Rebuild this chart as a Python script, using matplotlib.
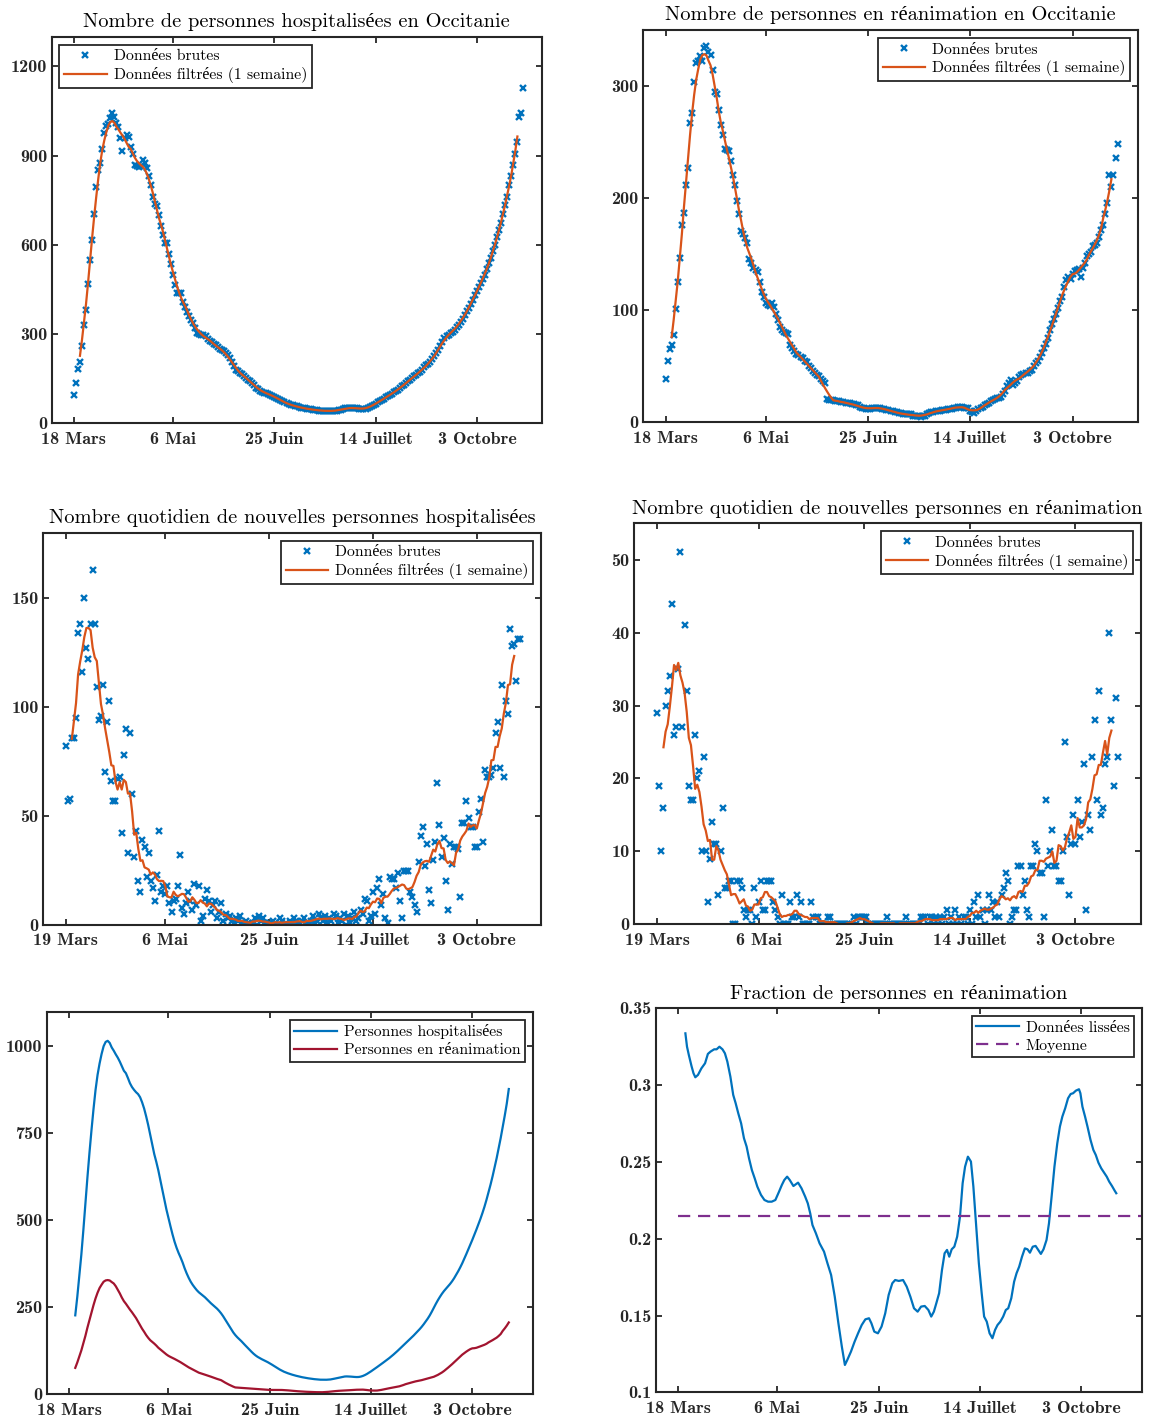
import numpy as np
import pandas as pd
import matplotlib
matplotlib.use('Agg')
import matplotlib.pyplot as plt

# --- donnees (jour 0 = 18 mars pour les stocks, 19 mars pour les flux) ---
hosp_raw = [94, 136, 181, 207, 260, 330, 381, 467, 549, 616,
            703, 795, 851, 874, 924, 975, 1000, 1008, 1025, 1044,
            1030, 1010, 997, 958, 916, 960, 970, 963, 930, 905,
            868, 866, 863, 865, 887, 874, 857, 830, 803, 760,
            739, 730, 700, 664, 633, 607, 605, 569, 536, 498,
            465, 439, 437, 437, 407, 390, 375, 360, 347, 336,
            320, 305, 300, 297, 296, 292, 285, 278, 272, 268,
            262, 255, 250, 246, 242, 238, 230, 218, 205, 192,
            180, 175, 170, 165, 158, 152, 147, 142, 135, 128,
            120, 115, 110, 106, 103, 101, 99, 96, 93, 90,
            86, 82, 78, 74, 70, 67, 64, 62, 60, 58,
            57, 55, 53, 51, 50, 49, 48, 47, 46, 45,
            44, 43, 43, 42, 42, 42, 41, 41, 42, 42,
            43, 44, 46, 48, 50, 51, 52, 52, 53, 52,
            50, 49, 48, 48, 49, 51, 54, 58, 62, 66,
            70, 74, 78, 82, 87, 91, 95, 100, 104, 108,
            113, 118, 124, 130, 136, 141, 146, 152, 158, 163,
            168, 173, 180, 188, 195, 200, 207, 215, 225, 236,
            246, 260, 274, 286, 294, 298, 303, 308, 315, 323,
            332, 341, 352, 364, 376, 387, 400, 415, 431, 446,
            460, 472, 485, 500, 520, 538, 556, 578, 599, 625,
            650, 675, 705, 735, 762, 800, 830, 870, 905, 947,
            1030, 1042, 1127]

rea_raw = [39, 55, 65, 69, 78, 101, 125, 147, 176, 187,
           212, 227, 267, 276, 304, 321, 322, 327, 322, 334,
           336, 330, 328, 314, 295, 293, 279, 265, 256, 244,
           243, 242, 233, 221, 212, 197, 186, 171, 168, 164,
           160, 146, 142, 138, 136, 134, 125, 116, 112, 106,
           105, 104, 106, 103, 97, 91, 85, 82, 81, 80,
           79, 69, 66, 64, 61, 60, 58, 57, 55, 54,
           50, 48, 46, 44, 42, 41, 39, 37, 35, 21,
           20, 20, 20, 19, 19, 19, 18, 18, 17, 17,
           17, 16, 16, 15, 15, 14, 13, 13, 12, 12,
           12, 13, 13, 13, 13, 13, 12, 12, 11, 11,
           10, 10, 9, 9, 8, 8, 7, 7, 7, 7,
           7, 6, 6, 6, 6, 5, 6, 6, 7, 8,
           9, 9, 10, 10, 10, 11, 11, 11, 12, 12,
           12, 13, 13, 14, 14, 14, 13, 13, 13, 10,
           9, 8, 10, 12, 13, 14, 15, 16, 17, 19,
           20, 21, 22, 22, 23, 25, 28, 32, 35, 38,
           33, 35, 37, 40, 42, 43, 44, 44, 46, 47,
           50, 53, 55, 58, 62, 66, 70, 75, 82, 88,
           92, 97, 102, 108, 112, 121, 127, 130, 128, 132,
           135, 136, 137, 130, 138, 142, 148, 150, 152, 157,
           158, 160, 165, 172, 176, 186, 196, 221, 210, 221,
           236, 248]

new_hosp = [82, 57, 58, 86, 86, 95, 134, 138, 116, 150,
            127, 122, 138, 163, 138, 109, 94, 96, 110, 70,
            93, 103, 66, 57, 57, 67, 68, 42, 78, 90,
            33, 88, 60, 31, 43, 20, 15, 39, 36, 22,
            33, 20, 17, 11, 23, 43, 15, 18, 14, 18,
            10, 6, 11, 12, 18, 32, 8, 5, 10, 15,
            11, 7, 19, 9, 18, 2, 4, 12, 16, 11,
            6, 9, 11, 3, 6, 10, 2, 5, 3, 4,
            2, 1, 3, 2, 4, 1, 0, 2, 1, 0,
            1, 3, 0, 4, 2, 3, 1, 0, 1, 0,
            2, 1, 0, 3, 2, 0, 1, 0, 2, 1,
            3, 2, 0, 1, 2, 3, 1, 0, 2, 4,
            1, 2, 5, 3, 2, 4, 1, 3, 2, 5,
            4, 1, 3, 2, 5, 0, 4, 1, 3, 6,
            2, 3, 7, 5, 12, 11, 2, 4, 15, 5,
            17, 21, 9, 14, 3, 1, 22, 21, 21, 17,
            24, 11, 3, 25, 25, 25, 15, 13, 9, 6,
            29, 41, 45, 27, 37, 16, 10, 30, 38, 65,
            46, 31, 40, 20, 7, 37, 28, 36, 36, 35,
            13, 47, 47, 57, 49, 45, 45, 36, 36, 52,
            58, 38, 71, 68, 68, 69, 72, 88, 93, 72,
            110, 68, 103, 97, 136, 128, 129, 112, 131, 131]

new_rea = [29, 19, 10, 16, 30, 32, 34, 44, 26, 27,
           35, 51, 27, 41, 32, 19, 17, 17, 26, 20,
           21, 10, 23, 10, 3, 9, 14, 11, 11, 4,
           10, 16, 5, 5, 6, 6, 0, 0, 6, 6,
           5, 2, 1, 2, 2, 0, 5, 1, 3, 6,
           2, 2, 6, 6, 6, 3, 2, 1, 0, 4,
           0, 0, 0, 3, 1, 1, 4, 1, 3, 0,
           0, 0, 0, 3, 1, 1, 1, 0, 0, 0,
           0, 1, 1, 0, 0, 0, 0, 0, 0, 0,
           0, 0, 0, 1, 0, 1, 1, 1, 1, 1,
           0, 0, 0, 0, 0, 0, 0, 0, 0, 1,
           0, 0, 0, 0, 0, 0, 0, 0, 1, 0,
           0, 0, 0, 0, 0, 1, 1, 1, 0, 1,
           1, 0, 1, 0, 1, 0, 1, 2, 0, 1,
           0, 2, 0, 1, 0, 1, 1, 0, 2, 0,
           3, 1, 4, 1, 2, 0, 2, 4, 2, 3,
           1, 3, 1, 4, 5, 7, 6, 0, 1, 2,
           2, 8, 8, 4, 6, 2, 1, 8, 8, 11,
           10, 7, 7, 1, 17, 8, 10, 13, 8, 8,
           6, 6, 10, 25, 12, 4, 11, 15, 11, 17,
           12, 14, 22, 2, 15, 13, 23, 28, 17, 32,
           15, 16, 22, 23, 40, 28, 19, 31, 23]

frac_day = [3.6, 4.4, 5.3, 6.6, 7.6, 8.5, 9.8, 11.5, 13.3, 14.7,
            16, 17.8, 19, 20.4, 21.9, 23.1, 24.3, 25.8, 27.2, 28.4,
            29.7, 31.1, 32.5, 33.8, 35, 36.4, 37.8, 39.1, 40.9, 42.6,
            44.4, 46.2, 48, 49.8, 51.2, 52.4, 53.8, 55.1, 56.9, 59.2,
            60.9, 62.7, 64, 65.2, 66.3, 68, 69.8, 72, 73.7, 75.5,
            77.3, 79.1, 80.8, 82.3, 83.5, 85.3, 87.1, 88.8, 90.6, 92.4,
            94.2, 95.4, 96.8, 98.6, 100.4, 102.2, 103.9, 105.7, 107.1, 108.9,
            111, 112.8, 114.6, 116.4, 118.2, 119.9, 121.7, 123.5, 124.9, 126.2,
            127.4, 128.8, 130.2, 131.5, 132.7, 133.8, 135, 136.3, 137.7, 139.1,
            140.4, 141.6, 143, 144.5, 145.7, 147, 148.4, 149.8, 151, 152.3,
            153.7, 155.1, 156.4, 157.6, 159, 160.4, 161.7, 162.9, 164.4, 165.8,
            167, 168.3, 169.7, 171.1, 172.4, 173.6, 175, 176.4, 177.7, 179,
            180.3, 181.8, 183, 184.3, 185.7, 187.1, 188.4, 189.6, 191, 192.4,
            193.7, 194.9, 196.3, 197.8, 198.5, 199.5, 200.8, 202, 203.5, 204.9,
            206.1, 207.4, 208.8, 210.2, 211.5, 212.7, 214.1, 215.4, 216.2]
frac_val = [0.3337, 0.325, 0.3196, 0.3125, 0.3077, 0.3051, 0.3066, 0.3109, 0.3142, 0.3203,
            0.3218, 0.3233, 0.3233, 0.325, 0.3233, 0.3207, 0.3153, 0.3055, 0.2936, 0.2882,
            0.2816, 0.2751, 0.2654, 0.26, 0.2523, 0.2447, 0.2393, 0.2339, 0.2285, 0.2252,
            0.2241, 0.2241, 0.2252, 0.2306, 0.235, 0.2382, 0.2404, 0.2382, 0.2343, 0.2365,
            0.2328, 0.2274, 0.223, 0.2165, 0.2089, 0.2035, 0.197, 0.1916, 0.184, 0.1764,
            0.1623, 0.1449, 0.1297, 0.1178, 0.1211, 0.1265, 0.133, 0.1384, 0.1438, 0.1475,
            0.1482, 0.1449, 0.1395, 0.1384, 0.1428, 0.1514, 0.1634, 0.171, 0.1731, 0.1725,
            0.1731, 0.1688, 0.1623, 0.1547, 0.1525, 0.1558, 0.1562, 0.1536, 0.1493, 0.1525,
            0.1579, 0.1645, 0.1796, 0.1905, 0.1927, 0.1883, 0.1931, 0.1948, 0.2013, 0.2144,
            0.2361, 0.2469, 0.2534, 0.2502, 0.2339, 0.21, 0.184, 0.1645, 0.1493, 0.146,
            0.1384, 0.1352, 0.1406, 0.1438, 0.146, 0.1493, 0.1536, 0.1547, 0.1612, 0.172,
            0.1775, 0.1818, 0.1883, 0.1937, 0.1931, 0.1909, 0.1948, 0.1953, 0.1927, 0.1901,
            0.1931, 0.1992, 0.21, 0.2274, 0.2469, 0.2621, 0.273, 0.2795, 0.2849, 0.2914,
            0.2942, 0.2947, 0.2964, 0.2973, 0.2947, 0.286, 0.2795, 0.273, 0.2643, 0.2578,
            0.2545, 0.2495, 0.2458, 0.243, 0.2404, 0.2372, 0.2343, 0.2313, 0.2296]
frac_mean = 0.2146
last_day_smooth = 217

ticks_stock = [0, 49, 99, 149, 199]
labels_stock = ['18 Mars', '6 Mai', '25 Juin', '14 Juillet', '3 Octobre']
ticks_flux = [0, 48, 98, 148, 198]
labels_flux = ['19 Mars', '6 Mai', '25 Juin', '14 Juillet', '3 Octobre']
frac_ticks = [0.1, 0.15, 0.2, 0.25, 0.3, 0.35]
frac_labels = ['0.1', '0.15', '0.2', '0.25', '0.3', '0.35']

BLUE = '#0072BD'
ORANGE = '#D95319'
RED = '#A2142F'
PURPLE = '#7E2F8E'
DARK = '#262626'
SERIF = ['cmr10', 'Liberation Serif']
BOLD = ['cmb10', 'Liberation Serif']

W, H = 1155, 1416
fig = plt.figure(figsize=(W / 100, H / 100), dpi=100)


def box(l, r, t, b):
    return fig.add_axes([l / W, 1 - b / H, (r - l) / W, (b - t) / H])


def style(ax, xlim, ylim, xt, xl, yt, yl=None):
    ax.set_xlim(xlim)
    ax.set_ylim(ylim)
    ax.set_xticks(xt)
    ax.set_xticklabels(xl)
    ax.set_yticks(yt)
    if yl is not None:
        ax.set_yticklabels(yl)
    ax.tick_params(direction='in', length=4, width=1.3, top=True, right=True,
                   colors=DARK, labelsize=13)
    ax.tick_params(axis='x', pad=6)
    ax.tick_params(axis='y', pad=3)
    for lab in ax.get_xticklabels() + ax.get_yticklabels():
        lab.set_fontfamily(BOLD)
        lab.set_fontweight('bold')
    for s in ax.spines.values():
        s.set_linewidth(1.5)
        s.set_color(DARK)


def legend(ax, loc):
    leg = ax.legend(loc=loc, prop={'family': SERIF, 'size': 11.3}, fancybox=False,
                    edgecolor=DARK, framealpha=1, handlelength=2.7, numpoints=1,
                    borderpad=0.3, labelspacing=0.25, handletextpad=0.45,
                    borderaxespad=0.5)
    leg.get_frame().set_linewidth(1.3)


def smooth(values):
    return pd.Series(values, dtype=float).rolling(7, center=True).mean()


hosp_s = smooth(hosp_raw)
rea_s = smooth(rea_raw)
nh_s = smooth(new_hosp)
nr_s = smooth(new_rea)

MK = dict(ls='none', marker='x', color=BLUE, ms=5, mew=1.7)
TT = dict(fontfamily=SERIF, fontsize=14.7, pad=7)

# 1 - hospitalisations
ax = box(51.6, 541.7, 36.7, 423.3)
ax.plot(np.arange(len(hosp_raw)), hosp_raw, label='Données brutes', **MK)
ax.plot(hosp_s.index, hosp_s.values, color=ORANGE, lw=1.6, label='Données filtrées (1 semaine)')
style(ax, (-11, 231), (0, 1300), ticks_stock, labels_stock, [0, 300, 600, 900, 1200])
ax.set_title('Nombre de personnes hospitalisées en Occitanie', **TT)
legend(ax, 'upper left')

# 2 - reanimation
ax = box(643, 1138, 30, 422.3)
ax.plot(np.arange(len(rea_raw)), rea_raw, label='Données brutes', **MK)
ax.plot(rea_s.index, rea_s.values, color=ORANGE, lw=1.6, label='Données filtrées (1 semaine)')
style(ax, (-11, 231), (0, 350), ticks_stock, labels_stock, [0, 100, 200, 300])
ax.set_title('Nombre de personnes en réanimation en Occitanie', **TT)
legend(ax, 'upper right')

# 3 - nouvelles hospitalisations
ax = box(42.8, 541.2, 532.7, 925)
ax.plot(np.arange(len(new_hosp)), new_hosp, label='Données brutes', **MK)
ax.plot(nh_s.index, nh_s.values, color=ORANGE, lw=1.6, label='Données filtrées (1 semaine)')
style(ax, (-11, 229), (0, 180), ticks_flux, labels_flux, [0, 50, 100, 150])
ax.set_title('Nombre quotidien de nouvelles personnes hospitalisées', **TT)
legend(ax, 'upper right')

# 4 - nouvelles reanimations
ax = box(633.9, 1141, 523.3, 924.3)
ax.plot(np.arange(len(new_rea)), new_rea, label='Données brutes', **MK)
ax.plot(nr_s.index, nr_s.values, color=ORANGE, lw=1.6, label='Données filtrées (1 semaine)')
style(ax, (-11, 229), (0, 55), ticks_flux, labels_flux, [0, 10, 20, 30, 40, 50])
ax.set_title('Nombre quotidien de nouvelles personnes en réanimation', **TT)
legend(ax, 'upper right')

# 5 - comparaison
ax = box(46.9, 533.1, 1011.7, 1394.3)
hs = hosp_s.loc[:last_day_smooth]
rs = rea_s.loc[:last_day_smooth]
ax.plot(hs.index, hs.values, color=BLUE, lw=1.6, label='Personnes hospitalisées')
ax.plot(rs.index, rs.values, color=RED, lw=1.6, label='Personnes en réanimation')
style(ax, (-11, 229), (0, 1100), ticks_stock, labels_stock, [0, 250, 500, 750, 1000])
legend(ax, 'upper right')

# 6 - fraction
ax = box(655.8, 1142.2, 1008.3, 1392.3)
ax.plot(frac_day, frac_val, color=BLUE, lw=1.6, label='Données lissées')
ax.plot([0, 240], [frac_mean, frac_mean], color=PURPLE, lw=1.6, ls=(0, (5.5, 3.5)), label='Moyenne')
style(ax, (-11, 229), (0.1, 0.35), ticks_stock, labels_stock, frac_ticks, frac_labels)
ax.set_title('Fraction de personnes en réanimation', **TT)
legend(ax, 'upper right')

fig.savefig('out.png', dpi=100)
